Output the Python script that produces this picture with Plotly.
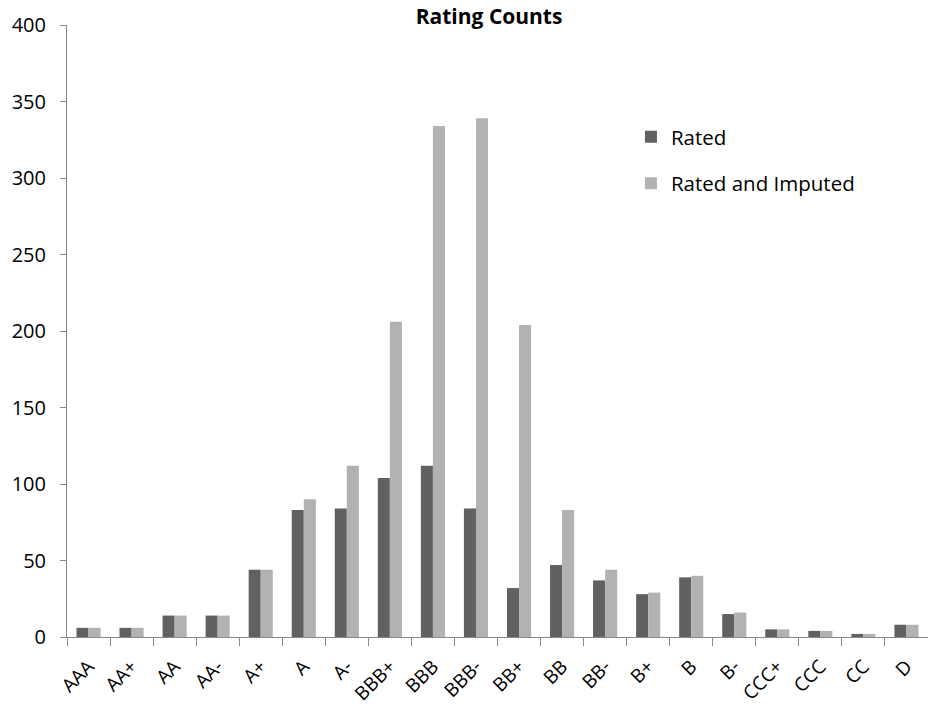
import plotly.graph_objects as go

categories = ["AAA", "AA+", "AA", "AA-", "A+", "A", "A-", "BBB+", "BBB", "BBB-",
              "BB+", "BB", "BB-", "B+", "B", "B-", "CCC+", "CCC", "CC", "D"]
rated = [6, 6, 14, 14, 44, 83, 84, 104, 112, 84, 32, 47, 37, 28, 39, 15, 5, 4, 2, 8]
rated_imputed = [6, 6, 14, 14, 44, 90, 112, 206, 334, 339, 204, 83, 44, 29, 40, 16, 5, 4, 2, 8]

font_family = "Open Sans, Liberation Sans, sans-serif"

fig = go.Figure()
fig.add_trace(go.Bar(x=categories, y=rated, name="Rated",
                     marker=dict(color="#616161", line=dict(width=0)),
                     legendgroup="a"))
fig.add_trace(go.Bar(x=categories, y=rated_imputed, name="Rated and Imputed",
                     marker=dict(color="#b2b2b2", line=dict(width=0)),
                     legendgroup="b"))

fig.update_layout(
    width=928, height=706,
    paper_bgcolor="white", plot_bgcolor="white",
    margin=dict(l=67, r=0, t=25, b=69),
    barmode="group", bargap=0.44, bargroupgap=0,
    font=dict(family=font_family, size=18, color="#000000"),
    title=dict(text="<b>Rating Counts</b>", x=0.527, xref="container", xanchor="center",
               y=0.976, yref="container", yanchor="middle",
               font=dict(family=font_family, size=21, color="#000000")),
    showlegend=True,
    legend=dict(x=0.655, y=0.85, xanchor="left", yanchor="top",
                xref="paper", yref="paper",
                traceorder="grouped", tracegroupgap=17,
                font=dict(family=font_family, size=20.5, color="#000000"),
                bgcolor="rgba(0,0,0,0)"),
    xaxis=dict(type="category", showline=True, linecolor="#898989", linewidth=1,
               ticks="outside", tickson="boundaries", ticklen=8, tickcolor="#898989",
               tickangle=-45, showgrid=False, zeroline=False, automargin=False,
               ticklabelstandoff=10,
               tickfont=dict(family=font_family, size=19, color="#000000")),
    yaxis=dict(range=[0, 400], dtick=50, showline=True, linecolor="#898989", linewidth=1,
               ticks="outside", ticklen=6, tickcolor="#898989", showgrid=False,
               zeroline=False, automargin=False, ticklabelstandoff=10,
               tickfont=dict(family=font_family, size=20, color="#000000")),
)

fig.write_html("out.html", config={"displayModeBar": False},
               post_script="document.body.style.margin='0px';document.body.style.overflow='hidden';")
